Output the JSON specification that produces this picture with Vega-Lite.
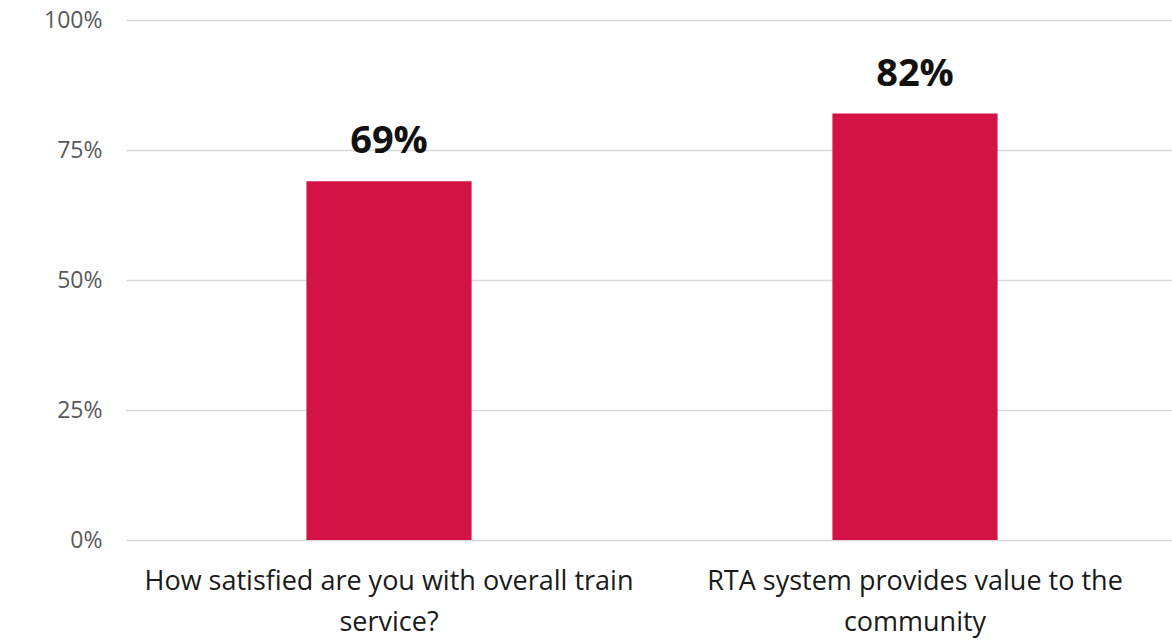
{
  "$schema": "https://vega.github.io/schema/vega-lite/v6.json",
  "width": 1052,
  "height": 520,
  "autosize": {"type": "none"},
  "padding": {"left": 126, "top": 20, "right": 0, "bottom": 103},
  "background": "#ffffff",
  "config": {"view": {"stroke": null}, "font": "Open Sans"},
  "data": {"values": [
    {"question": "How satisfied are you with overall train service?", "share": 0.69},
    {"question": "RTA system provides value to the community", "share": 0.82}
  ]},
  "encoding": {
    "x": {
      "field": "question", "type": "nominal", "sort": null,
      "scale": {"paddingInner": 0.686, "paddingOuter": 0.343},
      "axis": {
        "title": null, "labelAngle": 0, "domain": false, "ticks": false,
        "labelFont": "Open Sans", "labelFontSize": 27, "labelColor": "#1a1a1a",
        "labelPadding": 28, "labelLimit": 800, "labelLineHeight": 41,
        "labelExpr": "datum.value == 'How satisfied are you with overall train service?' ? ['How satisfied are you with overall train', 'service?'] : ['RTA system provides value to the', 'community']"
      }
    },
    "y": {
      "field": "share", "type": "quantitative",
      "scale": {"domain": [0, 1]},
      "axis": {
        "title": null, "format": ".0%", "values": [0, 0.25, 0.5, 0.75, 1],
        "domain": false, "ticks": false, "labelPadding": 24,
        "labelFont": "Open Sans", "labelFontSize": 23, "labelColor": "#595959",
        "gridColor": "#d9d9d9", "gridWidth": 1.5
      }
    }
  },
  "layer": [
    {"mark": {"type": "bar", "color": "#d31245"}},
    {
      "mark": {"type": "text", "baseline": "alphabetic", "dy": -28, "fontSize": 38, "fontWeight": "bold", "font": "Open Sans", "color": "#111111"},
      "encoding": {"text": {"field": "share", "type": "quantitative", "format": ".0%"}}
    }
  ]
}
